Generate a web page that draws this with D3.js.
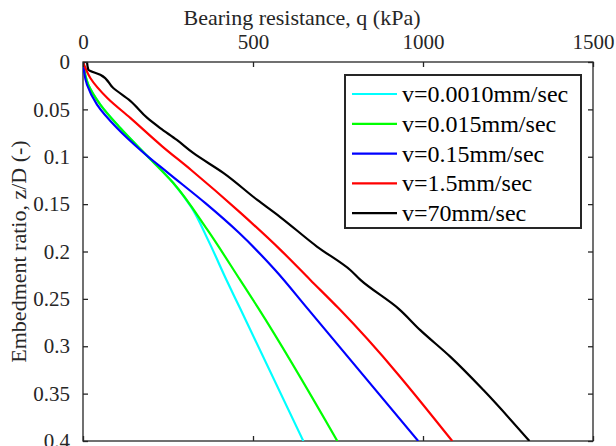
<!DOCTYPE html>
<html>
<head>
<meta charset="utf-8">
<script src="https://cdn.jsdelivr.net/npm/d3@7"></script>
<style>
  body { margin: 0; background: #fff; }
  .axis path, .axis line { stroke: #262626; stroke-width: 1.3; }
</style>
</head>
<body>
<svg width="616" height="446"></svg>
<script>
var width = 616;
var height = 446;
var serif = "Liberation Serif, Times New Roman, serif";

// series: q in kPa, z/D
var legendNames = ["v=0.0010mm/sec", "v=0.015mm/sec", "v=0.15mm/sec", "v=1.5mm/sec", "v=70mm/sec"];
var colors = ["#00ffff", "#00ff00", "#0000ff", "#ff0000", "#000000"];

var cyanQ = [0, 15.6, 50.9, 109.7, 189, 265.6, 318, 368, 422, 462, 648];
var cyanZ = [0, 0.024, 0.045, 0.0697, 0.0992, 0.1277, 0.153, 0.188, 0.23, 0.26, 0.4];

var greenQ = [0, 15.6, 50.9, 109.7, 189, 265.6, 365.6, 462, 516, 748];
var greenZ = [0, 0.024, 0.045, 0.0697, 0.0992, 0.1277, 0.177, 0.23, 0.26, 0.4];

var blueQ = [0, 11.8, 41.2, 100, 172, 250, 360, 458, 565, 660, 986];
var blueZ = [0, 0.024, 0.045, 0.0697, 0.0939, 0.117, 0.149, 0.18, 0.2195, 0.26, 0.4];

var redQ = [0, 21.5, 71.5, 139, 232, 318, 462.6, 580, 668.6, 752, 1086];
var redZ = [0, 0.0169, 0.038, 0.059, 0.0887, 0.114, 0.159, 0.198, 0.23, 0.26, 0.4];

var blackQ = [11.8, 15.6, 50.9, 89, 139, 189, 227, 276, 324, 412.6, 512.6, 580, 689, 786, 816, 927, 992, 1080, 1177, 1313];
var blackZ = [0, 0.008, 0.0134, 0.0274, 0.041, 0.059, 0.0697, 0.0823, 0.096, 0.117, 0.1456, 0.1636, 0.195, 0.2195, 0.23, 0.26, 0.283, 0.311, 0.346, 0.4];

var xTicks = [0, 500, 1000, 1500];
var yTicks = [0, 0.05, 0.1, 0.15, 0.2, 0.25, 0.3, 0.35, 0.4];

var allQ = [cyanQ, greenQ, blueQ, redQ, blackQ];
var allZ = [cyanZ, greenZ, blueZ, redZ, blackZ];

// plot box in pixels (names avoid window.top etc.)
var boxL = 83, boxT = 62, boxR = 593, boxB = 441;

var chart = d3.select('svg');

var x = d3.scaleLinear().domain([0, 1500]).range([boxL, boxR]);
var y = d3.scaleLinear().domain([0, 0.4]).range([boxT, boxB]);

// box
chart.append("rect")
    .attr("x", boxL).attr("y", boxT)
    .attr("width", boxR - boxL).attr("height", boxB - boxT)
    .attr("fill", "none").attr("stroke", "#262626").attr("stroke-width", 1.3);

// curves (clipped to the box)
chart.append("clipPath").attr("id", "clip")
    .append("rect").attr("x", boxL).attr("y", boxT - 2)
    .attr("width", boxR - boxL).attr("height", boxB - boxT + 2);

var line = d3.line()
    .x(function(d) { return x(d[0]); })
    .y(function(d) { return y(d[1]); })
    .curve(d3.curveMonotoneY);

var curves = chart.append("g").attr("clip-path", "url(#clip)");
for (var i = 0; i < allQ.length; i++) {
    var pts = allQ[i].map(function(q, j) { return [q, allZ[i][j]]; });
    curves.append("path")
        .datum(pts)
        .attr("d", line)
        .attr("fill", "none")
        .attr("stroke", colors[i])
        .attr("stroke-width", 2.2)
        .attr("stroke-linejoin", "round");
}

function styleTicks(g) {
    g.select(".domain").remove();
    g.attr("font-family", serif).attr("font-size", 21);
    g.selectAll("text").attr("fill", "#262626");
}

// axes, ticks point inward
chart.append("g").attr("class", "axis")
    .attr("transform", "translate(0," + boxT + ")")
    .call(d3.axisTop(x).tickValues(xTicks).tickSize(-5).tickPadding(13).tickFormat(d3.format("d")).tickSizeOuter(0))
    .call(styleTicks);
chart.append("g").attr("class", "axis")
    .attr("transform", "translate(0," + boxB + ")")
    .call(d3.axisBottom(x).tickValues(xTicks).tickSize(-5).tickFormat("").tickSizeOuter(0))
    .call(styleTicks);
chart.append("g").attr("class", "axis")
    .attr("transform", "translate(" + boxL + ",0)")
    .call(d3.axisLeft(y).tickValues(yTicks).tickSize(-5).tickPadding(13).tickFormat(d3.format("~g")).tickSizeOuter(0))
    .call(styleTicks);
chart.append("g").attr("class", "axis")
    .attr("transform", "translate(" + boxR + ",0)")
    .call(d3.axisRight(y).tickValues(yTicks).tickSize(-5).tickFormat("").tickSizeOuter(0))
    .call(styleTicks);

// axis titles
chart.append("text")
    .attr("x", 302)
    .attr("y", 25)
    .attr("text-anchor", "middle")
    .attr("font-family", serif)
    .attr("font-size", "22px")
    .attr("fill", "#262626")
    .text("Bearing resistance, q (kPa)");
chart.append("text")
    .attr("transform", "translate(26," + ((boxT + boxB) / 2) + ") rotate(-90)")
    .attr("text-anchor", "middle")
    .attr("font-family", serif)
    .attr("font-size", "22px")
    .attr("fill", "#262626")
    .text("Embedment ratio, z/D (-)");

// legend
var legend = chart.append("g");
legend.append("rect")
    .attr("x", 345).attr("y", 75)
    .attr("width", 236).attr("height", 153)
    .attr("fill", "#fff").attr("stroke", "#262626").attr("stroke-width", 2);
legendNames.forEach(function(name, i) {
    var ly = 94 + i * 29.8;
    legend.append("line")
        .attr("x1", 352).attr("x2", 397)
        .attr("y1", ly).attr("y2", ly)
        .attr("stroke", colors[i]).attr("stroke-width", 2.2);
    legend.append("text")
        .attr("x", 402).attr("y", ly + 8)
        .attr("font-family", serif)
        .attr("font-size", "24px")
        .attr("fill", "#000")
        .text(name);
});
</script>
</body>
</html>
